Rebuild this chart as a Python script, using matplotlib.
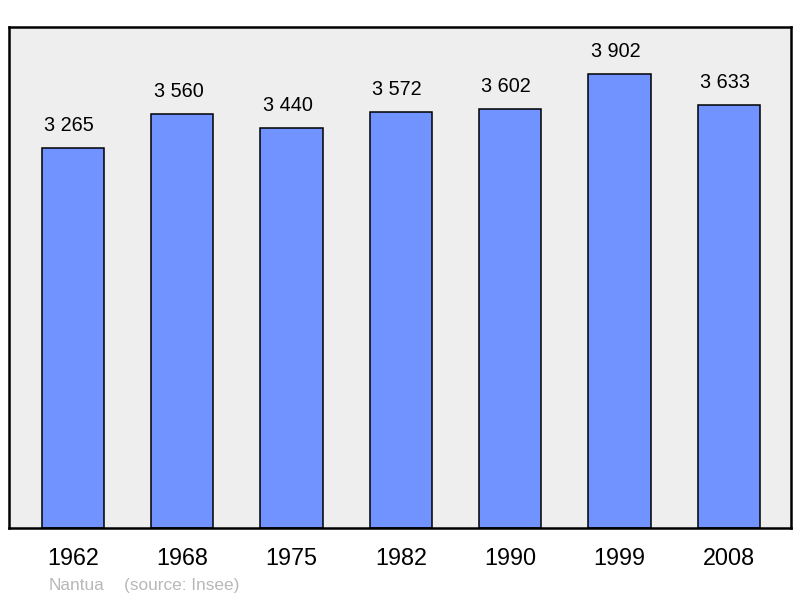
import matplotlib
matplotlib.use("Agg")
import matplotlib.pyplot as plt

plt.rcParams['font.family'] = ['Liberation Sans', 'DejaVu Sans']

years = ["1962", "1968", "1975", "1982", "1990", "1999", "2008"]
population = [3265, 3560, 3440, 3572, 3602, 3902, 3633]
labels = ["3 265", "3 560", "3 440", "3 572", "3 602", "3 902", "3 633"]

fig = plt.figure(figsize=(8, 5.98), dpi=100)
ax = fig.add_axes([9 / 800, 70 / 598, 782 / 800, 501 / 598])
ax.set_facecolor("#eeeeee")

x = range(len(years))
ax.bar(x, population, width=0.57, color="#7093ff", edgecolor="black", linewidth=1.1)

# value labels sit a touch left of the bar centre, as in the original
for i, (v, lab) in enumerate(zip(population, labels)):
    ax.text(i - 0.035, v + 110, lab, ha="center", va="bottom", fontsize=14.3)

ax.set_xlim(-0.585, 6.57)
ax.set_ylim(0, 4304)
ax.set_xticks(list(x))
ax.set_xticklabels(years, fontsize=16.8)
ax.tick_params(axis="x", length=0, pad=14)
ax.set_yticks([])
for s in ax.spines.values():
    s.set_linewidth(1.8)
    s.set_color("black")

fig.text(49 / 800, 1 - 590 / 598, "Nantua", fontsize=12.4, color="#b8b8b8")
fig.text(124 / 800, 1 - 590 / 598, "(source: Insee)", fontsize=12.4, color="#b8b8b8")

fig.savefig("out.png")
